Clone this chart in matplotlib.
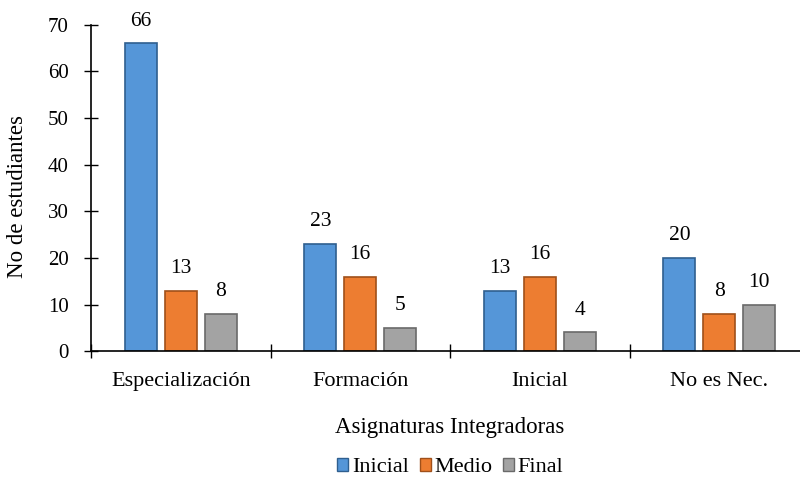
import numpy as np
import matplotlib.pyplot as plt
from matplotlib.patches import Patch

plt.rcParams["font.family"] = ["Liberation Serif", "DejaVu Serif"]

categorias = ["Especialización", "Formación", "Inicial", "No es Nec."]
series = ["Inicial", "Medio", "Final"]
inicial = [66, 23, 13, 20]
medio = [13, 16, 16, 8]
final = [8, 5, 4, 10]

colores = ["#5596d8", "#ed7d31", "#a3a3a3"]
bordes = ["#2f5f8f", "#a0501a", "#6a6a6a"]

fig = plt.figure(figsize=(8.0, 4.87), dpi=100)
ax = fig.add_axes([0.11375, 0.279, 0.8975, 0.670])

x = np.arange(len(categorias))
ancho = 0.178
paso = 0.222
for i, (vals, c, b) in enumerate(zip([inicial, medio, final], colores, bordes)):
    pos = x + (i - 1) * paso
    barras = ax.bar(pos, vals, width=ancho, color=c, edgecolor=b, linewidth=1.2,
                    label=series[i], zorder=2)
    for r, v in zip(barras, vals):
        ax.annotate(str(v), (r.get_x() + r.get_width() / 2, v), xytext=(0, 9),
                    textcoords="offset points", ha="center", va="bottom", fontsize=15.5)

ax.set_xlim(-0.5, 3.5)
ax.set_ylim(0, 70)
ax.set_yticks(range(0, 71, 10))
ax.set_xticks(np.arange(-0.5, 4.0, 1.0))
ax.set_xticklabels([])
ax.set_xticks(x, minor=True)
ax.set_xticklabels(categorias, minor=True, fontsize=16)
ax.tick_params(axis="x", which="minor", length=0, pad=15)
ax.tick_params(axis="x", which="major", direction="inout", length=10, width=1)
ax.tick_params(axis="y", direction="inout", length=10, width=1, labelsize=15, pad=11)

for s in ["top", "right"]:
    ax.spines[s].set_visible(False)
for s in ["left", "bottom"]:
    ax.spines[s].set_linewidth(1.2)

fig.text(18 / 800, 1 - 197 / 487, "No de estudiantes", rotation=90,
         ha="center", va="center", fontsize=16.5)
fig.text(450 / 800, 1 - 428 / 487, "Asignaturas Integradoras",
         ha="center", va="center", fontsize=16.5)

handles = [Patch(facecolor=c, edgecolor=b) for c, b in zip(colores, bordes)]
fig.legend(handles, series, loc="center", bbox_to_anchor=(0.563, 0.040), ncol=3,
           frameon=False, fontsize=16, handlelength=0.5, handleheight=0.5,
           handletextpad=0.15, columnspacing=0.5)

fig.savefig("out.png", dpi=100)
